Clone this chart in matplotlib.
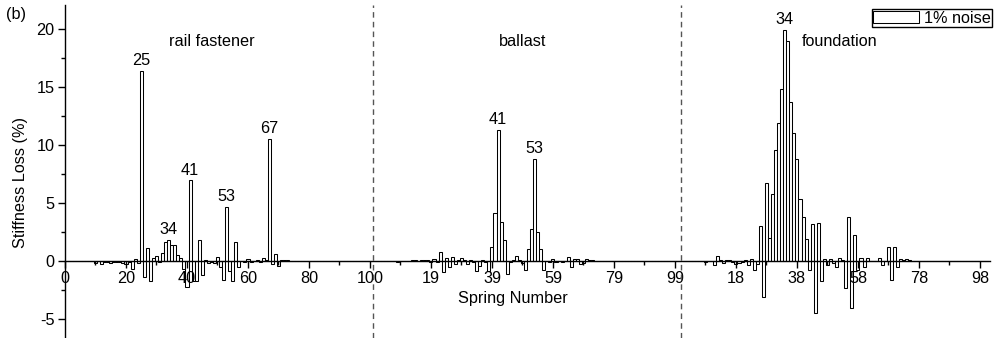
"""Stiffness loss per spring (1% noise) for rail fastener, ballast and foundation."""
import matplotlib

matplotlib.use("Agg")
import matplotlib.pyplot as plt
import numpy as np
from matplotlib.ticker import FixedLocator, MultipleLocator

plt.rcParams["font.family"] = ["Liberation Sans", "DejaVu Sans"]
plt.rcParams["axes.unicode_minus"] = False

# stiffness loss (%) for springs 1..100 in each group
rail = [
    0, 0, 0, 0, 0, 0, 0, 0, 0, -0.15,
    0.0, -0.25, -0.05, -0.1, -0.2, -0.1, -0.05, -0.1, -0.15, -0.3,
    -0.1, -0.7, 0.15, -0.15, 16.4, -1.35, 1.1, -1.75, 0.3, 0.4,
    -0.1, 0.65, 1.6, 1.85, 1.4, 1.35, 0.5, 0.3, -0.7, -2.25,
    6.95, -1.75, -1.7, 1.8, -1.2, 0.05, -0.2, -0.1, -0.15, 0.35,
    -0.5, -1.65, 4.63, -0.9, -1.7, 1.6, -0.55, 0.0, -0.05, 0.15,
    -0.05, 0.0, 0.05, -0.1, 0.25, 0.1, 10.5, -0.3, 0.6, -0.4,
    0.1, 0.05, 0.05, 0.03, 0.03, 0.02, 0.02, 0.02, 0.02, 0.02,
    0.02, 0.01, 0.01, 0.01, 0, 0, 0, 0, 0, 0,
    0, 0, 0, 0, 0, 0, 0, 0, 0, 0,
]
ballast = [
    0, 0, 0, 0, 0, 0, 0, -0.05, -0.03, 0.03,
    0.03, -0.03, 0.05, 0.05, -0.03, 0.05, 0.05, 0.1, -0.1, 0.15,
    -0.1, 0.75, -0.92, 0.3, -0.5, 0.37, -0.26, 0.05, 0.23, 0.1,
    -0.26, 0.05, -0.1, -0.86, -0.43, 0.05, -0.05, -0.86, 1.18, 4.1,
    11.3, 3.39, 1.8, -1.1, -0.1, 0.05, 0.43, 0.05, -0.2, -0.78,
    1.0, 2.73, 8.78, 2.53, 1.07, -0.78, 0.0, -0.05, 0.17, -0.05,
    0.0, -0.05, 0.0, 0.37, -0.49, 0.15, 0.2, -0.26, -0.15, 0.2,
    0.05, 0.05, 0.03, 0.02, 0.02, 0.02, 0.02, 0.02, 0.02, 0.02,
    0.02, 0.02, 0.02, 0.02, 0.02, 0.01, 0.01, 0.01, 0.01, 0.01,
    0.01, 0.01, 0.01, 0.01, 0, 0, 0, 0, 0, 0,
]
foundation = [
    0, 0, 0, 0, 0, 0, 0, -0.05, 0, 0,
    -0.35, 0.4, 0.1, -0.2, 0.05, 0.1, -0.1, -0.3, -0.2, -0.1,
    0.1, -0.35, 0.2, -0.75, -0.3, 3.05, -3.07, 6.72, 1.95, 5.78,
    9.57, 11.87, 14.8, 19.9, 18.97, 13.7, 11.06, 8.79, 5.32, 3.76,
    1.87, -0.78, 3.19, -4.5, 3.3, -1.72, 0.15, -0.34, 0.15, -0.2,
    -0.5, 0.3, 0.05, -2.35, 3.8, -4.05, 2.22, -0.78, 0.23, -0.5,
    0.3, 0.0, 0.0, 0.0, 0.23, -0.35, 0.0, 1.18, -1.65, 1.24,
    -0.55, 0.2, 0.1, 0.15, 0.05, 0.02, 0.02, 0.02, 0.02, 0.02,
    0.02, 0.02, 0.01, 0.01, 0.01, 0.01, 0.01, 0.01, 0.01, 0.01,
    0.01, 0.01, 0.01, 0.01, 0.01, 0, 0, 0, 0, 0,
]
groups = ["rail fastener", "ballast", "foundation"]
offsets = [0, 101, 202]
peaks = [[25, 34, 41, 53, 67], [41, 53], [34]]

tick_pos = list(range(0, 301, 20))
tick_labels = ["0", "20", "40", "60", "80", "100", "19", "39", "59", "79",
               "99", "18", "38", "58", "78", "98"]

FS = 11.7

fig = plt.figure(figsize=(9.94, 3.38), dpi=100)
ax = fig.add_axes([65 / 994, 0.0, 925 / 994, 333 / 338])

springs = np.arange(1, 101)
for i, vals in enumerate([rail, ballast, foundation]):
    x = springs + offsets[i]
    ax.bar(x, vals, width=1.0, facecolor="white", edgecolor="black",
           linewidth=0.75, label="1% noise" if i == 0 else None)
    for k in peaks[i]:
        ax.text(k + offsets[i], vals[k - 1] + 0.5, str(k), ha="center",
                va="baseline", fontsize=FS)

# dashed separators between the three groups
for xd in offsets[1:]:
    ax.axvline(xd, color="#555555", linestyle=(0, (4, 3)), linewidth=1)

ax.text(48, 18.9, groups[0], ha="center", va="center", fontsize=FS)
ax.text(150, 18.9, groups[1], ha="center", va="center", fontsize=FS)
ax.text(254, 18.9, groups[2], ha="center", va="center", fontsize=FS)

ax.set_xlim(0, 303.3)
ax.set_ylim(-6.64, 22.07)
ax.spines["top"].set_visible(False)
ax.spines["right"].set_visible(False)
ax.spines["bottom"].set_position(("data", 0))
ax.spines["bottom"].set_linewidth(1.0)
ax.spines["left"].set_linewidth(1.0)

ax.xaxis.set_major_locator(FixedLocator(tick_pos))
ax.set_xticklabels(tick_labels)
ax.xaxis.set_minor_locator(MultipleLocator(10))
ax.yaxis.set_major_locator(MultipleLocator(5))
ax.yaxis.set_minor_locator(MultipleLocator(2.5))
ax.tick_params(which="major", direction="out", length=5, width=1,
               labelsize=FS, pad=2.5)
ax.tick_params(which="minor", direction="out", length=3, width=1)

fig.text(21 / 994, 1 - 183 / 338, "Stiffness Loss (%)", rotation=90,
         ha="center", va="center", fontsize=FS)
fig.text(513 / 994, 1 - 298 / 338, "Spring Number", ha="center",
         va="center", fontsize=FS)
fig.text(16 / 994, 1 - 15 / 338, "(b)", ha="center", va="center", fontsize=FS)

leg = ax.legend(loc="upper right", bbox_to_anchor=(992 / 994, 1 - 9 / 338),
                bbox_transform=fig.transFigure, fontsize=FS, frameon=True,
                fancybox=False, edgecolor="black", framealpha=1,
                borderpad=0.1, handlelength=2.8, handleheight=0.7,
                handletextpad=0.3, borderaxespad=0)
leg.get_frame().set_linewidth(1.0)

fig.savefig("out.png", dpi=100)
